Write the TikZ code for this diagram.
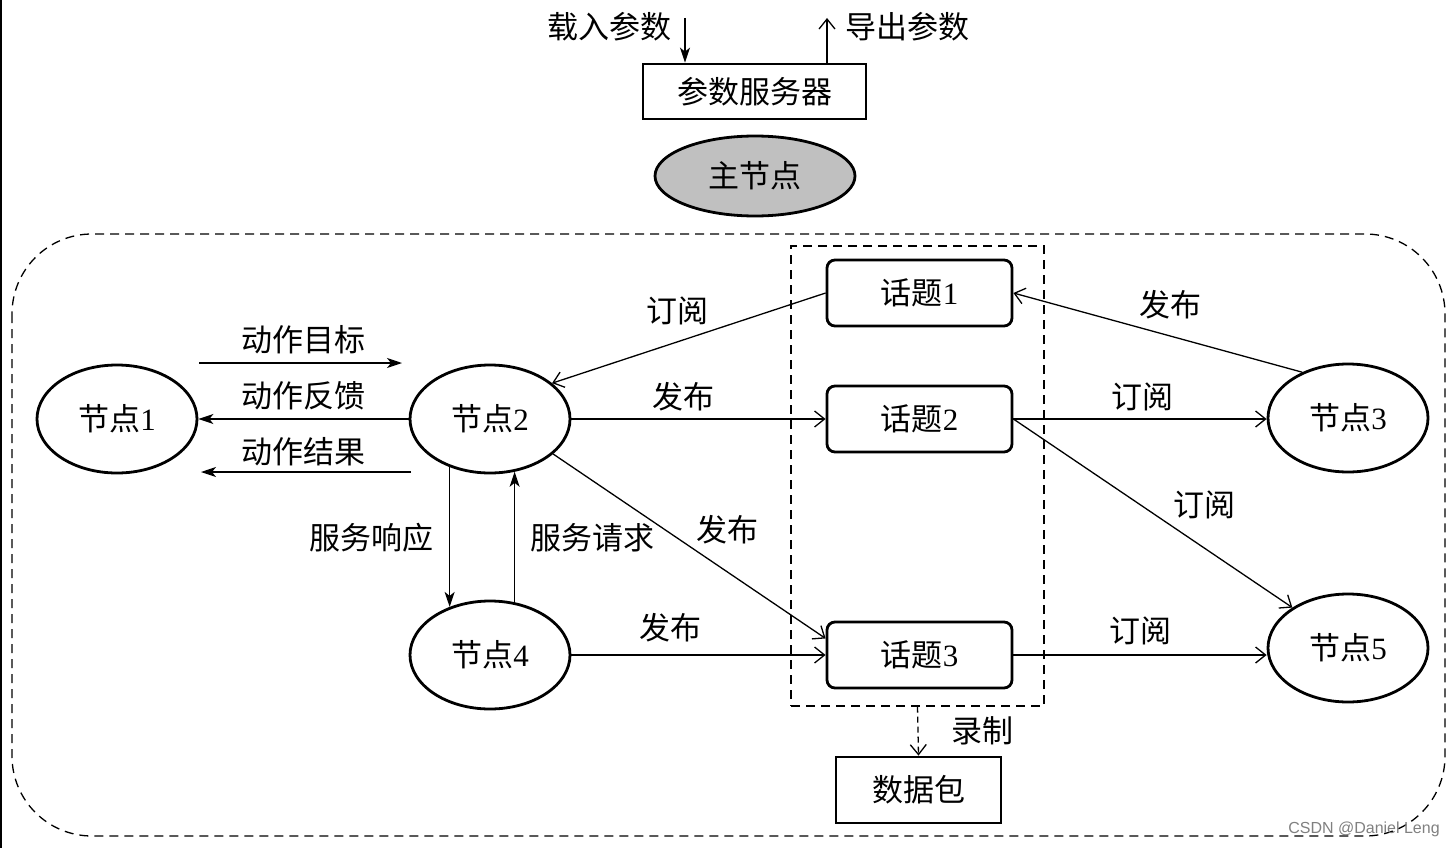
\documentclass[tikz,border=0pt]{standalone}
\usepackage{fontspec}
\setmainfont{Liberation Serif}
\newfontfamily\cjk{Noto Sans CJK SC}
\newfontfamily\wmfont{Liberation Sans}
\usetikzlibrary{arrows.meta,shapes.geometric}
\definecolor{mastergray}{RGB}{192,192,192}
\newcommand{\dig}[1]{{\rmfamily #1}}

\begin{document}
\begin{tikzpicture}[x=1pt,y=-1pt,
  every node/.style={font=\cjk\fontsize{31}{35}\selectfont, inner sep=0pt},
  rosnode/.style={draw, ellipse, line width=2.8pt, minimum width=160pt, minimum height=108pt},
  topicbox/.style={draw, rounded corners=8pt, line width=2.8pt, minimum width=185pt, minimum height=66pt},
  plainbox/.style={draw, line width=2.8pt},
  flow/.style={line width=1.3pt, -{Straight Barb[length=10pt,width=16pt]}},
  act/.style={line width=1.3pt, -{Stealth[length=15pt,width=10pt,inset=4pt]}},
  dashline/.style={line width=1.3pt, dash pattern=on 9pt off 6pt}
]
\useasboundingbox (0,0) rectangle (1455,848);

% left edge of the scan
\draw [line width=2pt] (1,0) -- (1,848);

% master and parameter server
\node [plainbox, minimum width=223pt, minimum height=55pt] (param) at (754.5,91.5) {参数服务器};
\node [draw, ellipse, line width=2.8pt, fill=mastergray, minimum width=200pt, minimum height=80pt] (master) at (755,176) {主节点};

\coordinate (loadtop) at (685,18);
\coordinate (dumptop) at (827,18);
\draw [act] (loadtop) -- (loadtop |- param.north);
\draw [flow] (dumptop |- param.north) -- (dumptop);
\node (loadlbl) at (609,27) {载入参数};
\node (dumplbl) at (907,27) {导出参数};

% outer frame and topic group
\draw [dashline, rounded corners=80pt] (12,234) rectangle (1445,836);
\node [dashline, draw, minimum width=253pt, minimum height=460pt] (topics) at (917.5,476) {};

% nodes
\node [rosnode] (n1) at (117,419) {节点\dig{1}};
\node [rosnode] (n2) at (490,419) {节点\dig{2}};
\node [rosnode] (n3) at (1348,418) {节点\dig{3}};
\node [rosnode] (n4) at (490,655) {节点\dig{4}};
\node [rosnode] (n5) at (1348,648) {节点\dig{5}};

\node [topicbox] (t1) at (919.5,293) {话题\dig{1}};
\node [topicbox] (t2) at (919.5,419) {话题\dig{2}};
\node [topicbox] (t3) at (919.5,655) {话题\dig{3}};

\node [plainbox, minimum width=165pt, minimum height=66pt] (bag) at (918.5,790) {数据包};

% action
\coordinate (goalA) at (199,363);
\coordinate (goalB) at (402,363);
\coordinate (resA) at (411,472);
\coordinate (resB) at (201,472);
\draw [act] (goalA) -- (goalB);
\draw [act] (n2.west) -- (n1.east);
\draw [act] (resA) -- (resB);
\node (goallbl) at (303,340) {动作目标};
\node (fbklbl) at (303,396) {动作反馈};
\node (reslbl) at (303,452) {动作结果};

% service
\draw [act] (n2.230) -- (n4.130);
\draw [act] (n4.65) -- (n2.-65);
\node (resplbl) at (371,538) {服务响应};
\node (reqlbl) at (592,538) {服务请求};

% topics
\draw [flow] (t1.west) -- (n2.30);
\draw [flow] (n2.east) -- (t2.west);
\draw [flow] (n2.-29) -- (t3.170);
\draw [flow] (n4.east) -- (t3.west);
\draw [flow] (n3.135) -- (t1.east);
\draw [flow] (t2.east) -- (t2.east -| n3.west);
\draw [flow] (t2.east) -- (n5.144);
\draw [flow] (t3.east) -- (t3.east -| n5.west);

\node (sub1) at (677,311) {订阅};
\node (pub1) at (683,397) {发布};
\node (pub2) at (727,530) {发布};
\node (pub3) at (670,628) {发布};
\node (pub4) at (1170,305) {发布};
\node (sub2) at (1142,397) {订阅};
\node (sub3) at (1204,505) {订阅};
\node (sub4) at (1140,631) {订阅};

% record
\draw [flow, dash pattern=on 6pt off 4pt] (topics.south) -- (bag.north);
\node (reclbl) at (982,731) {录制};

\node [font=\wmfont\fontsize{16}{18}\selectfont, text=gray] (mark) at (1364,829) {CSDN @Daniel Leng};

\end{tikzpicture}
\end{document}
